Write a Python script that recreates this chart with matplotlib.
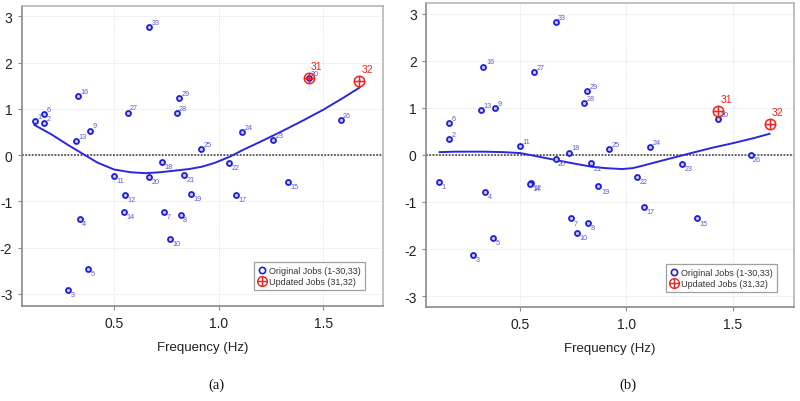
import matplotlib
matplotlib.use("Agg")
import matplotlib.pyplot as plt
from matplotlib.path import Path
from matplotlib.lines import Line2D

# ---------------- data ----------------
job_ids = [1, 2, 3, 4, 5, 6, 7, 8, 9, 10, 11, 12, 13, 14, 15, 16, 17, 18, 19, 20,
           21, 22, 23, 24, 25, 26, 27, 28, 29, 30, 33]
freq = [0.12, 0.165, 0.279, 0.335, 0.375, 0.165, 0.740, 0.818, 0.384, 0.769,
        0.499, 0.553, 0.316, 0.548, 1.332, 0.328, 1.081, 0.730, 0.868, 0.667,
        0.834, 1.050, 1.261, 1.112, 0.917, 1.583, 0.565, 0.799, 0.813, 1.431, 0.667]
resid_a = [0.74, 0.70, -2.92, -1.38, -2.45, 0.88, -1.22, -1.29, 0.53, -1.81,
           -0.45, -0.86, 0.31, -1.23, -0.57, 1.28, -0.86, -0.14, -0.84, -0.48,
           -0.43, -0.17, 0.33, 0.50, 0.13, 0.75, 0.92, 0.91, 1.24, 1.66, 2.76]
resid_b = [-0.57, 0.33, -2.12, -0.78, -1.77, 0.67, -1.35, -1.44, 1.00, -1.65,
           0.19, -0.59, 0.96, -0.61, -1.35, 1.88, -1.11, 0.05, -0.67, -0.08,
           -0.18, -0.47, -0.19, 0.16, 0.13, 0.00, 1.76, 1.10, 1.36, 0.77, 2.82]

upd_ids = [31, 32]
upd_freq = [1.432, 1.673]
upd_a = [1.67, 1.60]
upd_b = [0.93, 0.66]

# smooth (loess) curves
curve_a_x = [0.12, 0.20, 0.28, 0.35, 0.42, 0.50, 0.58, 0.65, 0.72, 0.80, 0.86, 0.92,
             0.98, 1.05, 1.12, 1.20, 1.30, 1.40, 1.50, 1.60, 1.674]
curve_a_y = [0.65, 0.45, 0.22, 0.03, -0.16, -0.31, -0.37, -0.39, -0.37, -0.33, -0.30, -0.25,
             -0.17, -0.04, 0.12, 0.29, 0.51, 0.74, 0.98, 1.25, 1.46]
curve_b_x = [0.122, 0.20, 0.325, 0.42, 0.50, 0.58, 0.669, 0.75, 0.836, 0.90, 0.98,
             1.03, 1.075, 1.15, 1.278, 1.40, 1.50, 1.60, 1.672]
curve_b_y = [0.06, 0.07, 0.07, 0.06, 0.04, -0.03, -0.11, -0.18, -0.25, -0.28, -0.30,
             -0.28, -0.23, -0.14, 0.01, 0.15, 0.25, 0.36, 0.45]

xticks = [0.5, 1.0, 1.5]
yticks = [-3, -2, -1, 0, 1, 2, 3]
xlabel = "Frequency (Hz)"
legend_labels = ["Original Jobs (1-30,33)", "Updated Jobs (31,32)"]
captions = ["(a)", "(b)"]

# ---------------- style ----------------
BLUE = "#1f1fd6"
LBLUE = "#5a5ad8"
RED = "#ee2222"

circ = Path.unit_circle()
cross = Path([[-1, 0], [1, 0], [0, -1], [0, 1]],
             [Path.MOVETO, Path.LINETO, Path.MOVETO, Path.LINETO])
oplus = Path.make_compound_path(circ, cross)

fig = plt.figure(figsize=(8.0, 4.02), dpi=100)
plt.rcParams['font.family'] = ['Liberation Sans', 'DejaVu Sans']

axes_rects = [[0.0275, 0.2363, 0.451, 0.746], [0.533, 0.233, 0.459, 0.757]]
ylims = [(-3.26, 3.22), (-3.24, 3.23)]
legend_anchor = [(0.95, 0.053), (0.955, 0.049)]
cap_x = [0.27, 0.785]

panels = [(resid_a, upd_a, curve_a_x, curve_a_y), (resid_b, upd_b, curve_b_x, curve_b_y)]

for i, (res, upd, cx, cy) in enumerate(panels):
    ax = fig.add_axes(axes_rects[i])
    ax.set_xlim(0.06, 1.785)
    ax.set_ylim(*ylims[i])
    ax.set_xticks(xticks)
    ax.set_xticklabels(["0.5", "1.0", "1.5"])
    ax.set_yticks(yticks)
    ax.set_yticklabels([str(t) for t in yticks])
    ax.grid(True, color="#e4e4e4", linestyle=(0, (1, 1)), linewidth=0.7)
    ax.set_axisbelow(True)
    for s in ["top", "right"]:
        ax.spines[s].set_color("#b5b5b5")
        ax.spines[s].set_linewidth(1.2)
    for s in ["left", "bottom"]:
        ax.spines[s].set_color("#8a8a8a")
        ax.spines[s].set_linewidth(1.2)
    ax.tick_params(axis="both", length=3, width=0.8, color="#8a8a8a",
                   labelsize=10, labelcolor="#222222", pad=4)
    ax.set_xlabel(xlabel, fontsize=9.5, color="#222222", labelpad=8)

    ax.axhline(0, color="#555555", linestyle=(0, (1, 0.8)), linewidth=1.3, zorder=1)

    ax.plot(cx, cy, color="#2828e0", linewidth=1.4, zorder=2)

    ax.plot(freq, res, linestyle="none", marker="o", markersize=3.6,
            markerfacecolor="#c8c8ff", markeredgecolor=BLUE, markeredgewidth=1.3, zorder=3)
    for jid, fx, ry in zip(job_ids, freq, res):
        if ry >= 0.05:
            ax.annotate(str(jid), (fx, ry), xytext=(1.8, 0.8), textcoords="offset points",
                        fontsize=5.2, color=LBLUE, ha="left", va="bottom")
        else:
            ax.annotate(str(jid), (fx, ry), xytext=(1.8, -0.8), textcoords="offset points",
                        fontsize=5.2, color=LBLUE, ha="left", va="top")

    ax.plot(upd_freq, upd, linestyle="none", marker=oplus, markersize=7.5,
            markerfacecolor="none", markeredgecolor=RED, markeredgewidth=1.1, zorder=4)
    for jid, fx, ry in zip(upd_ids, upd_freq, upd):
        ax.annotate(str(jid), (fx, ry), xytext=(1.5, 5.0), textcoords="offset points",
                    fontsize=7.5, color=RED, ha="left", va="bottom")

    handles = [
        Line2D([], [], linestyle="none", marker="o", markersize=4.5, markerfacecolor="none",
               markeredgecolor=BLUE, markeredgewidth=1.2),
        Line2D([], [], linestyle="none", marker=oplus, markersize=7, markerfacecolor="none",
               markeredgecolor=RED, markeredgewidth=1.0),
    ]
    leg = ax.legend(handles, legend_labels, loc="lower right", bbox_to_anchor=legend_anchor[i],
                    fontsize=6.5, frameon=True, fancybox=False, handlelength=0.8,
                    handletextpad=0.4, borderpad=0.45, labelspacing=0.25, borderaxespad=0)
    leg.get_frame().set_edgecolor("#888888")
    leg.get_frame().set_linewidth(0.9)
    for t in leg.get_texts():
        t.set_color("#333333")

    fig.text(cap_x[i], 0.042, captions[i], fontsize=10.5, family=["Liberation Serif", "DejaVu Serif"],
             ha="center", va="center", color="#111111")

fig.savefig("out.png", dpi=100)
